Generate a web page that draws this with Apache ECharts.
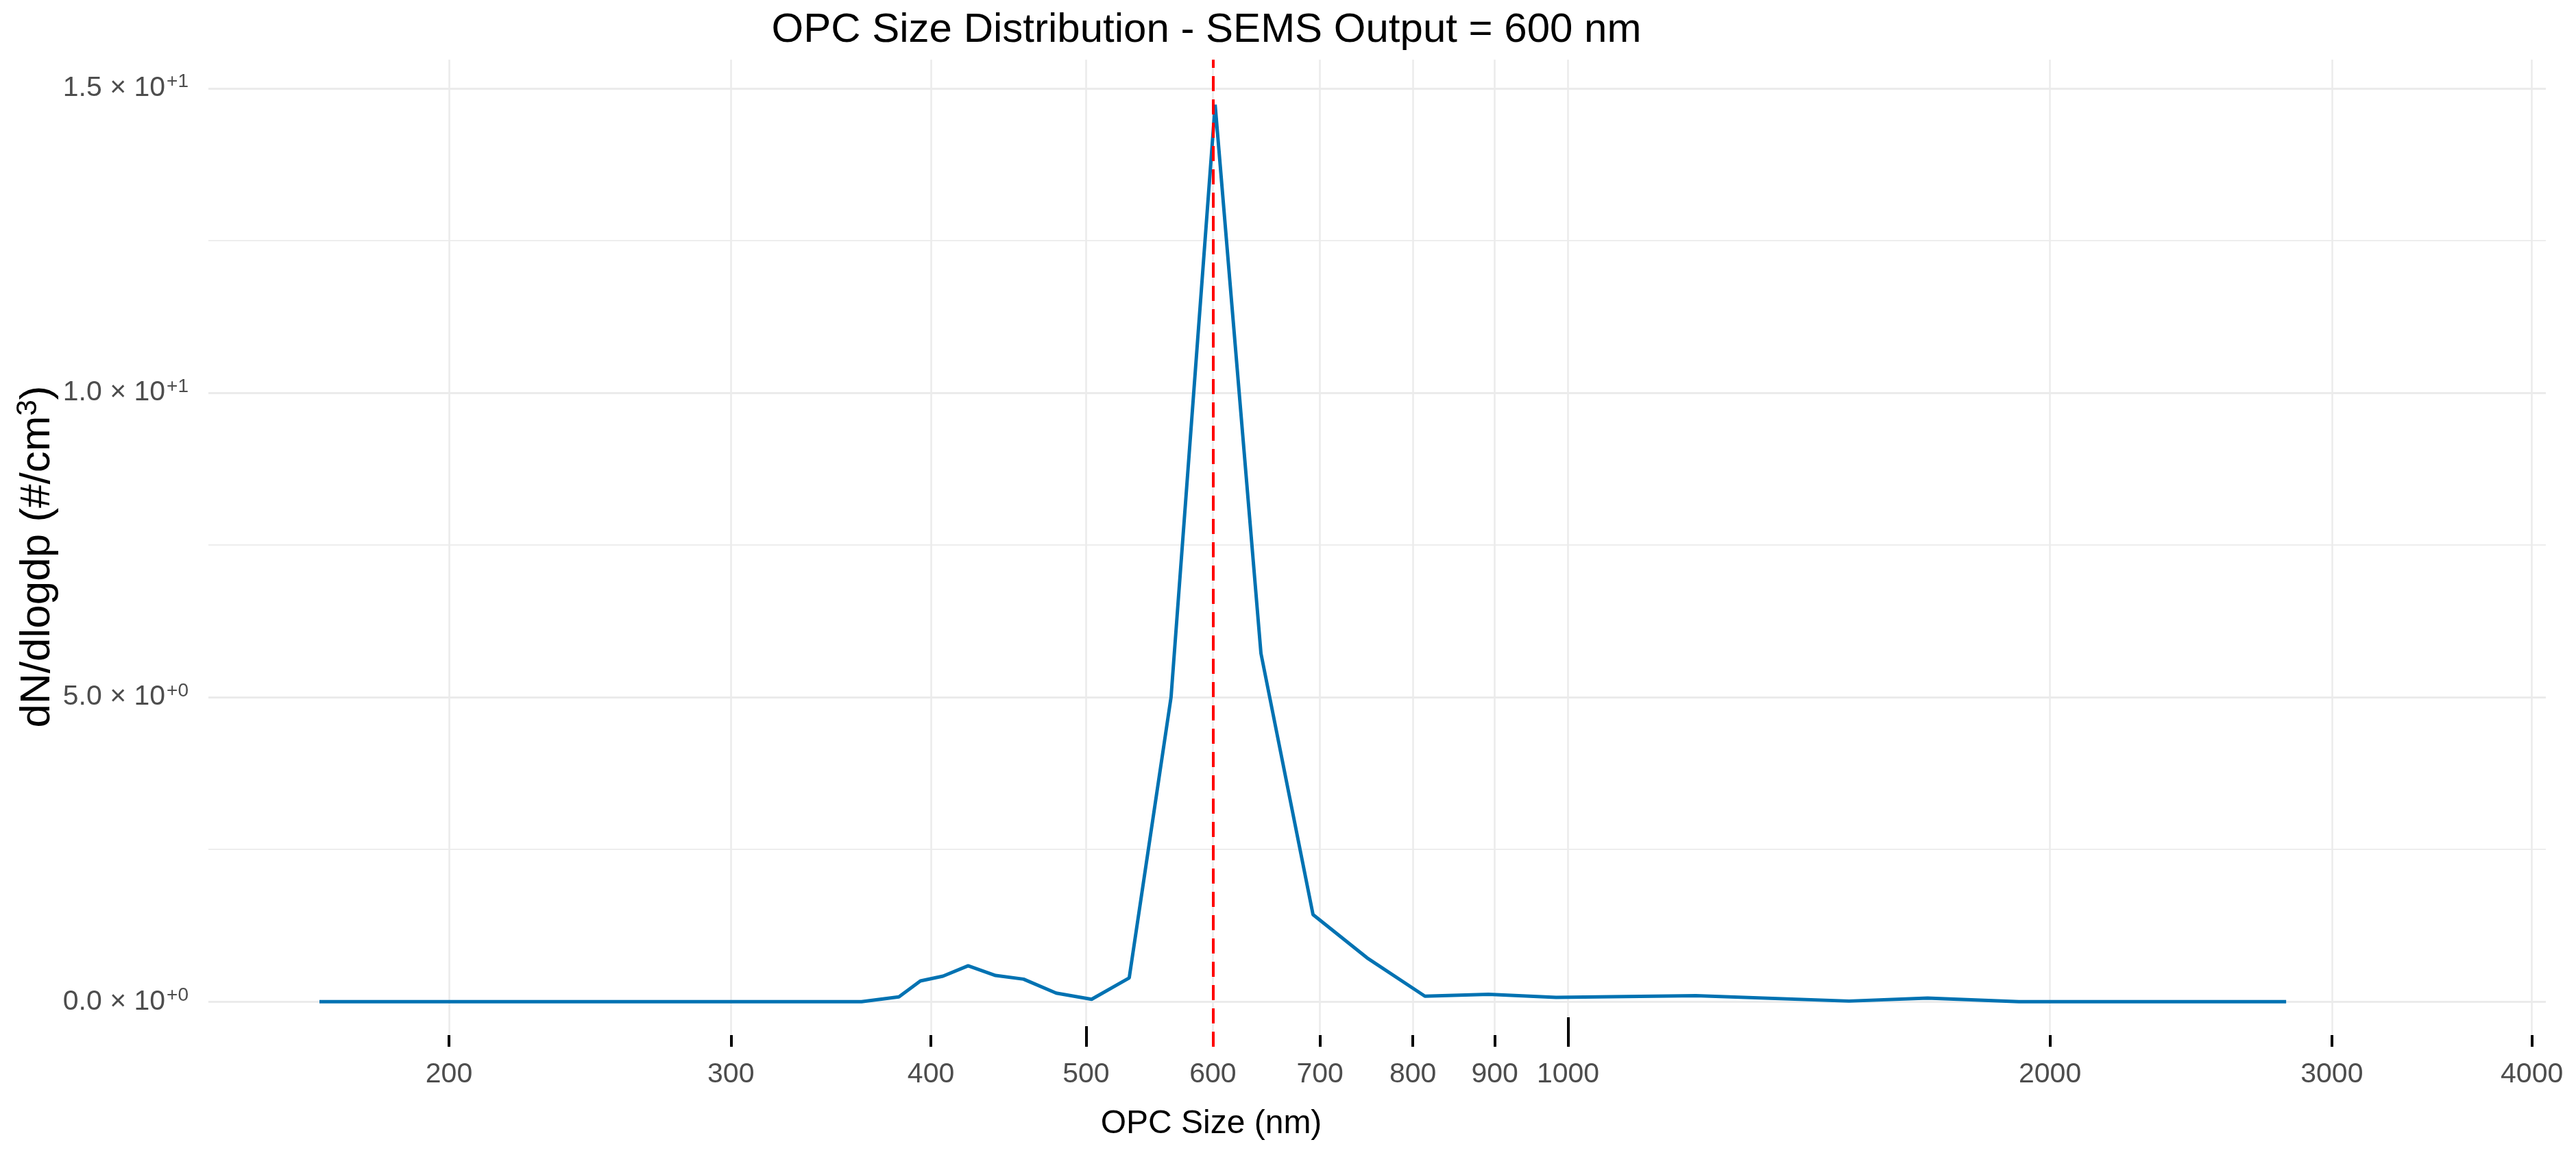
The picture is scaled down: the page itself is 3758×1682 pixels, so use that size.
<!DOCTYPE html>
<html>
<head>
<meta charset="utf-8">
<title>OPC Size Distribution - SEMS Output = 600 nm</title>
<script src="https://cdn.jsdelivr.net/npm/echarts@6/dist/echarts.min.js"></script>
<style>
	html, body { margin: 0; padding: 0; background: #ffffff; }
	#chart { width: 3758px; height: 1682px; }
</style>
</head>
<body>
<div id="chart"></div>
<script>
/*
 * OPC size distribution.
 */
var opcSize  = [166, 362, 382, 394, 407, 422, 439, 457, 479, 504, 532, 565, 602, 643, 693, 749, 814, 892, 983, 1202, 1498, 1677, 1913, 2809];
var dNdlogdp = [0, 0, 0.08, 0.34, 0.42, 0.59, 0.43, 0.37, 0.14, 0.04, 0.39, 5.0, 14.73, 5.72, 1.43, 0.72, 0.09, 0.12, 0.07, 0.10, 0.01, 0.06, 0, 0];

var semsSize = 600;

// axis breaks
var xBreaks = [200, 300, 400, 500, 600, 700, 800, 900, 1000, 2000, 3000, 4000];
var yBreaks = [0, 5, 10, 15];
var yMinorBreaks = [2.5, 7.5, 12.5];

// log ticks along the bottom (short / mid / long)
var logTickShort = [200, 300, 400, 600, 700, 800, 900, 2000, 3000, 4000];
var logTickMid = [500];
var logTickLong = [1000];

var xRange = [141.5, 4081];
var yRange = [-0.74, 15.47];

var FONT = '"Liberation Sans", Arial, Helvetica, sans-serif';
var TICK_GREY = '#4D4D4D';

// 1.5 x 10^+1 style labels
function sciLabel(v){
	var e = (v === 0) ? 0 : Math.floor(Math.log10(Math.abs(v)));
	var m = (v / Math.pow(10, e)).toFixed(1);
	return '{m|' + m + ' \u00D7 10}{s|+' + e + '}';
}

function tickAxis(values, len){
	return {
		type: 'log',
		logBase: 10,
		min: xRange[0],
		max: xRange[1],
		position: 'bottom',
		axisLine: { show: false },
		axisLabel: { show: false },
		splitLine: { show: false },
		axisTick: {
			show: true,
			inside: true,
			length: len,
			customValues: values,
			lineStyle: { color: '#000000', width: 4 }
		}
	};
}

var seriesData = [];
for (var i = 0; i < opcSize.length; i++) {
	seriesData.push([opcSize[i], dNdlogdp[i]]);
}

var gridLines = [];
for (var j = 0; j < yBreaks.length; j++) {
	gridLines.push({ yAxis: yBreaks[j], lineStyle: { color: '#EBEBEB', width: 3, type: 'solid' } });
}
for (var k = 0; k < yMinorBreaks.length; k++) {
	gridLines.push({ yAxis: yMinorBreaks[k], lineStyle: { color: '#EDEDED', width: 2, type: 'solid' } });
}
for (var n = 0; n < xBreaks.length; n++) {
	gridLines.push({ xAxis: xBreaks[n], lineStyle: { color: '#EBEBEB', width: 2.5, type: 'solid' } });
}

var myChart = echarts.init(document.getElementById('chart'), null, { renderer: 'canvas' });

var option = {
	backgroundColor: '#ffffff',
	animation: false,
	grid: { left: 304, right: 44, top: 87, bottom: 155, containLabel: false },
	xAxis: [
		{
			type: 'log',
			logBase: 10,
			min: xRange[0],
			max: xRange[1],
			position: 'bottom',
			axisLine: { show: false },
			axisTick: { show: false },
			splitLine: { show: false },
			minorSplitLine: { show: false },
			axisLabel: {
				customValues: xBreaks,
				margin: 20,
				color: TICK_GREY,
				fontSize: 41,
				fontFamily: FONT,
				formatter: function(v){ return String(Math.round(v)); }
			}
		},
		tickAxis(logTickShort, 17),
		tickAxis(logTickMid, 30),
		tickAxis(logTickLong, 43)
	],
	yAxis: {
		type: 'value',
		min: yRange[0],
		max: yRange[1],
		axisLine: { show: false },
		axisTick: { show: false },
		splitLine: { show: false },
		axisLabel: {
			customValues: yBreaks,
			margin: 29,
			formatter: sciLabel,
			rich: {
				m: { fontSize: 41, color: TICK_GREY, fontFamily: FONT, lineHeight: 46 },
				s: { fontSize: 28, color: TICK_GREY, fontFamily: FONT, verticalAlign: 'top', padding: [0, 0, 0, 2] }
			}
		}
	},
	graphic: [
		{
			type: 'text', x: 1760, y: 44, silent: true,
			style: {
				text: 'OPC Size Distribution - SEMS Output = 600 nm',
				fill: '#000000', fontSize: 60, fontFamily: FONT,
				align: 'center', verticalAlign: 'middle', textAlign: 'center', textVerticalAlign: 'middle'
			}
		},
		{
			type: 'text', x: 1767, y: 1640, silent: true,
			style: {
				text: 'OPC Size (nm)',
				fill: '#000000', fontSize: 48, fontFamily: FONT,
				align: 'center', verticalAlign: 'middle', textAlign: 'center', textVerticalAlign: 'middle'
			}
		},
		{
			type: 'text', x: 55, y: 812, rotation: Math.PI / 2, silent: true,
			style: {
				text: '{a|dN/dlogdp (#/cm}{s|3}{a|)}',
				fill: '#000000', fontSize: 62, fontFamily: FONT,
				align: 'center', verticalAlign: 'middle', textAlign: 'center', textVerticalAlign: 'middle',
				rich: {
					a: { fontSize: 62, fontFamily: FONT, fill: '#000000', lineHeight: 70 },
					s: { fontSize: 42, fontFamily: FONT, fill: '#000000', verticalAlign: 'top' }
				}
			}
		}
	],
	series: [
		{
			// carrier for the panel grid lines, drawn under everything
			name: 'grid',
			type: 'line',
			data: seriesData,
			showSymbol: false,
			silent: true,
			lineStyle: { width: 0, opacity: 0 },
			z: 0,
			markLine: {
				z: 0,
				silent: true,
				symbol: ['none', 'none'],
				label: { show: false },
				data: gridLines
			}
		},
		{
			name: 'dN/dlogdp',
			type: 'line',
			data: seriesData,
			showSymbol: false,
			smooth: false,
			z: 3,
			lineStyle: { color: '#0072B2', width: 5 },
			markLine: {
				z: 5,
				silent: true,
				symbol: ['none', 'none'],
				label: { show: false },
				lineStyle: { color: '#FF0000', width: 4, type: [22, 12] },
				data: [{ xAxis: semsSize }]
			}
		}
	]
};

myChart.setOption(option);

window.addEventListener('resize', function(){ myChart.resize(); });
</script>
</body>
</html>
